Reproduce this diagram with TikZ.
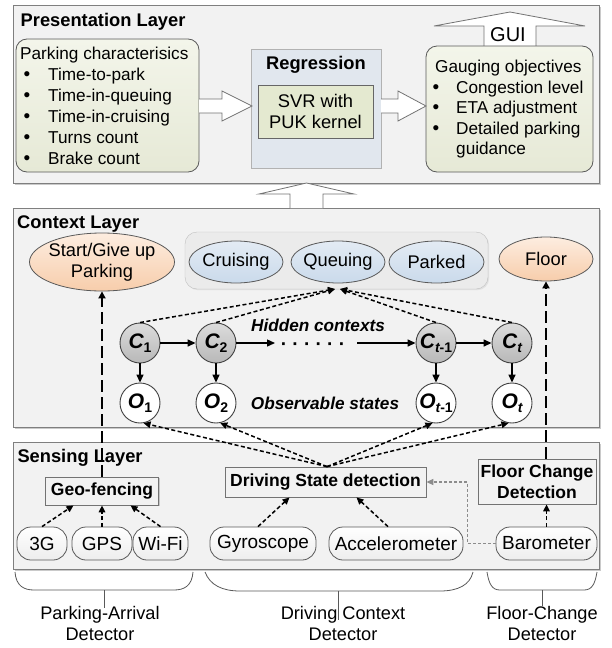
\documentclass[tikz,border=0pt]{standalone}
\usepackage{fontspec}
\setmainfont{Liberation Sans}
\usetikzlibrary{arrows.meta,shadows,calc,shapes.geometric}

\definecolor{layerfill}{HTML}{F2F2F2}
\definecolor{layerline}{HTML}{7F7F7F}
\definecolor{boxline}{HTML}{595959}
\definecolor{notetop}{HTML}{F3F5EA}
\definecolor{notebot}{HTML}{E6E9D6}
\definecolor{regfill}{HTML}{E1E7EE}
\definecolor{svrfill}{HTML}{E4E9D0}
\definecolor{bluetop}{HTML}{E3EBF4}
\definecolor{bluebot}{HTML}{CADAEB}
\definecolor{peachtop}{HTML}{FDEDE0}
\definecolor{peachbot}{HTML}{F7CDAB}
\definecolor{ctop}{HTML}{DCDCDC}
\definecolor{cbot}{HTML}{B8B8B8}
\definecolor{groupfill}{HTML}{EBEBEB}

% bullet glyph and HMM state label (letter with subscript)
\newcommand\bul{{\fontsize{19}{19}\selectfont\textbullet}}
\newcommand\hv[2]{#1\raisebox{-4.5pt}{\fontsize{14}{14}\selectfont #2}}

\begin{document}
\begin{tikzpicture}[x=1pt,y=-1pt,
  layer/.style={draw=layerline, fill=layerfill, line width=0.9pt, inner sep=0, outer sep=0,
    drop shadow={shadow xshift=1.5pt, shadow yshift=-1.5pt, opacity=0.35, fill=black!60}},
  layertitle/.style={font=\fontsize{18.3}{22}\selectfont\bfseries, anchor=base west, inner sep=0},
  note/.style={draw=boxline, rounded corners=11pt, top color=notetop, bottom color=notebot,
    line width=0.8pt, inner sep=0},
  listtxt/.style={font=\fontsize{17.2}{20}\selectfont, anchor=base west, inner sep=0},
  ell/.style={ellipse, draw=boxline, line width=0.8pt, inner sep=-20pt,
    font=\fontsize{18.3}{21}\selectfont, align=center},
  bluestate/.style={ell, top color=bluetop, bottom color=bluebot},
  peach/.style={ell, top color=peachtop, bottom color=peachbot},
  hmm/.style={circle, draw=black!75, line width=0.9pt, minimum size=40pt, inner sep=0,
    font=\fontsize{21}{21}\selectfont\bfseries\itshape},
  cnode/.style={hmm, top color=ctop, bottom color=cbot},
  onode/.style={hmm, fill=white},
  procbox/.style={draw=black!55, fill=black!5, line width=0.8pt, inner sep=0, align=center,
    font=\fontsize{17.5}{21}\selectfont\bfseries,
    drop shadow={shadow xshift=1.2pt, shadow yshift=-1.2pt, opacity=0.3, fill=black!60}},
  sensor/.style={draw=boxline, rounded corners=14pt, top color=white, bottom color=black!7,
    line width=0.8pt, minimum height=33pt, inner sep=0, font=\fontsize{19}{21}\selectfont},
  flow/.style={line width=1.5pt, dash pattern=on 4pt off 2.5pt,
    -{Triangle[length=7pt,width=6.5pt]}},
  link/.style={line width=1.7pt, dash pattern=on 12pt off 5pt,
    -{Triangle[length=7pt,width=7pt]}},
  chain/.style={line width=1.4pt, -{Triangle[length=8pt,width=7pt]}},
  feed/.style={draw=black!45, line width=1.2pt, dash pattern=on 3pt off 2pt,
    -{Triangle[length=7pt,width=6pt]}},
  blockarrow/.style={draw=black!55, fill=white, line width=0.8pt, line join=miter},
  brace/.style={draw=black!65, line width=0.8pt},
  detlabel/.style={font=\fontsize{18.2}{21}\selectfont, align=center, inner sep=0}
]
\useasboundingbox (0,0) rectangle (611,648);

% ---------------- Presentation layer ----------------
\node[layer, minimum width=586pt, minimum height=178pt] (pres) at (306,94) {};
\node[layertitle] (prestitle) at (20.5,26.5) {Presentation Layer};

\node[note, minimum width=183pt, minimum height=133pt] (park) at (107.5,105.5) {};
\node[listtxt] (parkhead) at (20,59) {Parking characterisics};
\foreach \t [count=\i] in {Time-to-park,Time-in-queuing,Time-in-cruising,Turns count,Brake count}
  \node[listtxt] (park\i) at (23.5,{59+21*\i}) {\makebox[24.5pt][l]{\bul}\t};

\node[draw=black!30, fill=regfill, line width=0.8pt, minimum width=130pt, minimum height=119pt,
  inner sep=0, drop shadow={shadow xshift=1.2pt, shadow yshift=-1.2pt, opacity=0.2, fill=black!50}]
  (reg) at (316,108.5) {};
\node[font=\fontsize{18.3}{22}\selectfont\bfseries, anchor=base, inner sep=0] (regtitle) at (316,69.5) {Regression};
\node[draw=black!60, fill=svrfill, line width=0.8pt, minimum width=115pt, minimum height=53pt,
  inner sep=0, font=\fontsize{18.3}{20.5}\selectfont, align=center] (svr) at (315.5,111.5) {SVR with\\PUK kernel};

% GUI output arrow
\draw[blockarrow] (484,46) -- (484,26) -- (434,26) -- (510,12) -- (585,26) -- (536,26) -- (536,46);
\node[font=\fontsize{20}{22}\selectfont, inner sep=0] (gui) at (508,35) {GUI};

\node[note, minimum width=167pt, minimum height=126pt] (gauge) at (509.5,109) {};
\node[listtxt] (gaugehead) at (435,72) {Gauging objectives};
\node[listtxt] (gauge1) at (432.5,93) {\makebox[23.5pt][l]{\bul}Congestion level};
\node[listtxt] (gauge2) at (432.5,113.5) {\makebox[23.5pt][l]{\bul}ETA adjustment};
\node[listtxt] (gauge3) at (432.5,134) {\makebox[23.5pt][l]{\bul}Detailed parking};
\node[listtxt] (gauge4) at (456,154.5) {guidance};

% block arrows between the presentation boxes
\draw[blockarrow] (199,99) -- (222,99) -- (222,91) -- (252,106) -- (222,121) -- (222,113) -- (199,113);
\draw[blockarrow] (381,99) -- (398,99) -- (398,91) -- (426,106) -- (398,121) -- (398,113) -- (381,113);

% ---------------- Context layer ----------------
\node[layer, minimum width=586pt, minimum height=219pt] (ctx) at (306,317.5) {};
\node[layertitle] (ctxtitle) at (17,228.5) {Context Layer};

% block arrow from context to presentation
\draw[blockarrow] (290,208) -- (290,194) -- (259,194) -- (306.5,183) -- (354,194) -- (323,194) -- (323,208);

\node[draw=black!25, fill=groupfill, rounded corners=12pt, minimum width=303pt, minimum height=57pt,
  inner sep=0, drop shadow={shadow xshift=1.2pt, shadow yshift=-1.2pt, opacity=0.15, fill=black!50}]
  (grp) at (336.5,260.5) {};
\node[peach, minimum width=145pt, minimum height=58pt] (start) at (102,262) {Start/Give up\\Parking};
\node[bluestate, minimum width=94pt, minimum height=42pt] (cruise) at (236,262) {Cruising};
\node[bluestate, minimum width=94pt, minimum height=42pt] (queue) at (338,262) {Queuing};
\node[bluestate, minimum width=95pt, minimum height=42pt] (parked) at (436.5,262) {Parked};
\node[peach, minimum width=94pt, minimum height=44pt] (floor) at (546,259) {Floor};

\node[cnode] (c1) at (140,343) {\hv{C}{\upshape 1}};
\node[cnode] (c2) at (216,343) {\hv{C}{\upshape 2}};
\node[cnode] (c3) at (436,343) {\hv{C}{t\upshape -1}};
\node[cnode] (c4) at (512,343) {\hv{C}{t}};
\node[onode] (o1) at (140,403) {\hv{O}{\upshape 1}};
\node[onode] (o2) at (216,403) {\hv{O}{\upshape 2}};
\node[onode] (o3) at (436,403) {\hv{O}{t\upshape -1}};
\node[onode] (o4) at (512,403) {\hv{O}{t}};

\node[font=\fontsize{17.2}{20}\selectfont\bfseries\itshape, anchor=base, inner sep=0] (hidden) at (318,331) {Hidden contexts};
\node[font=\fontsize{17.2}{20}\selectfont\bfseries\itshape, anchor=base, inner sep=0] (observable) at (325,409) {Observable states};

% hidden chain
\coordinate (gapL) at (275,343);
\coordinate (gapR) at (357,343);
\draw[chain] (c1) -- (c2);
\draw[chain] (c2) -- (gapL);
\node[font=\fontsize{19}{19}\selectfont\bfseries, anchor=base, inner sep=0] (dots) at (313,350.5) {· · · · · ·};
\draw[chain] (gapR) -- (c3);
\draw[chain] (c3) -- (c4);
\foreach \i in {1,...,4} \draw[chain] (c\i) -- (o\i);

% hidden states map to the driving states
\coordinate (convL) at (335,289);
\coordinate (convR) at (340,289);
\draw[flow] (c1.north) -- (convL);
\draw[flow] (c2.north) -- (convL);
\draw[flow] (c3.north) -- (convR);
\draw[flow] (c4.north) -- (convR);

% ---------------- Sensing layer ----------------
\node[layer, minimum width=586pt, minimum height=127pt] (sens) at (306,505.5) {};
\node[layertitle] (senstitle) at (17.3,462.5) {Sensing Layer};

\node[procbox, minimum width=113pt, minimum height=28pt] (geo) at (102,491) {Geo-fencing};
\node[procbox, minimum width=201pt, minimum height=30pt] (ds) at (325.5,482) {Driving State detection};
\node[procbox, minimum width=118pt, minimum height=45pt] (fcd) at (537,481.5) {Floor Change\\Detection};

\node[sensor, minimum width=50pt] (s3g) at (42,543.5) {3G};
\node[sensor, minimum width=60pt] (gps) at (102,543.5) {GPS};
\node[sensor, minimum width=55pt] (wifi) at (160.5,543.5) {Wi-Fi};
\node[sensor, minimum width=106pt] (gyro) at (263,543.5) {Gyroscope};
\node[sensor, minimum width=134pt] (accel) at (396,543.5) {Accelerometer};
\node[sensor, minimum width=101pt] (baro) at (546.5,543.5) {Barometer};

\draw[flow] (s3g.north) -- ($(geo.south)+(-28.5,0)$);
\draw[flow] (gps.north) -- (geo.south);
\draw[flow] (wifi.north) -- ($(geo.south)+(28.5,0)$);
\draw[flow] ($(gyro.north)+(-5,0)$) -- ($(ds.south)+(-36,0)$);
\draw[flow] ($(accel.north)+(-8,0)$) -- ($(ds.south)+(31,0)$);
\draw[flow] (baro.north) -- (baro.north |- fcd.south);
\draw[feed] (baro.west) -- ++(-28,0) |- (ds.east);

% driving states feed the observable states
\coordinate (dsTop) at ($(ds.north)+(1.5,0)$);
\draw[flow] (dsTop) -- (o1.-80);
\draw[flow] (dsTop) -- (o2.-78);
\draw[flow] (dsTop) -- (o3.-100);
\draw[flow] (dsTop) -- (o4.-100);

% detector outputs up to the context layer
\draw[link] (geo.north) -- (geo.north |- start.south);
\draw[link] (fcd.north -| floor.south) -- (floor.south);

% ---------------- detector groupings ----------------
\draw[brace] (15,572) .. controls (16,586) and (24,590) .. (34,590) -- (174,590)
  .. controls (184,590) and (192,586) .. (193,572);
\draw[brace] (104,590) -- (104,608);
\draw[brace] (205,572) .. controls (210,585) and (222,591) .. (240,591) -- (440,591)
  .. controls (458,591) and (470,585) .. (473,572);
\draw[brace] (338,591) -- (338,620);
\draw[brace] (487,572) .. controls (489,584) and (492,590) .. (500,590) -- (584,590)
  .. controls (592,590) and (595,584) .. (597,572);
\draw[brace] (542,590) -- (542,606);

\node[detlabel] (padl) at (100,623.5) {Parking-Arrival\\Detector};
\node[detlabel] (dcdl) at (343,623.5) {Driving Context\\Detector};
\node[detlabel] (fcdl) at (542,623) {Floor-Change\\Detector};
\end{tikzpicture}
\end{document}
